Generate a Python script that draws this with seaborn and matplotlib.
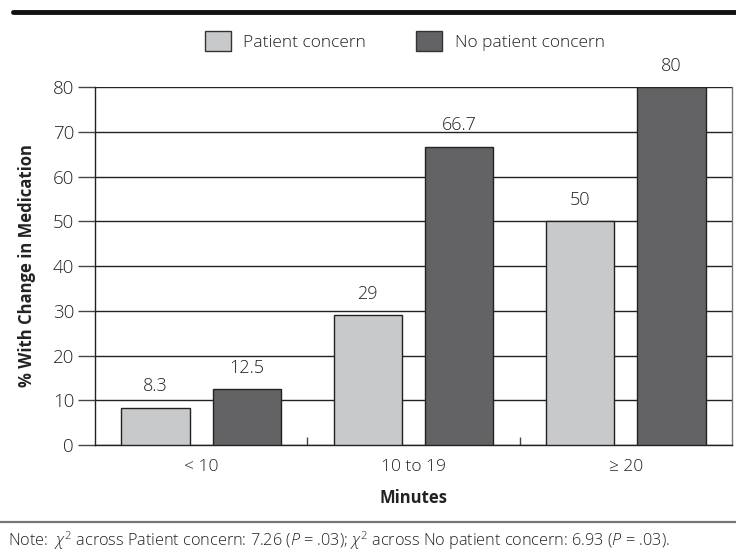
import numpy as np
import pandas as pd
import matplotlib
matplotlib.use("Agg")
import matplotlib.pyplot as plt
import seaborn as sns

# ---------------- Data ----------------
minutes = ["< 10", "10 to 19", "\u2265 20"]
groups = ["Patient concern", "No patient concern"]
patient_concern = [8.3, 29, 50]
no_patient_concern = [12.5, 66.7, 80]
value_labels = {
    "Patient concern": ["8.3", "29", "50"],
    "No patient concern": ["12.5", "66.7", "80"],
}
yticks = [0, 10, 20, 30, 40, 50, 60, 70, 80]

df = pd.DataFrame({
    "Minutes": minutes * 2,
    "group": [groups[0]] * 3 + [groups[1]] * 3,
    "pct": patient_concern + no_patient_concern,
})

# ---------------- Style ----------------
sns.set_style("white")
plt.rcParams["font.family"] = ["Open Sans", "DejaVu Sans"]
plt.rcParams["font.weight"] = "light"
plt.rcParams["mathtext.fontset"] = "custom"
plt.rcParams["mathtext.rm"] = "Open Sans:light"
plt.rcParams["mathtext.it"] = "Open Sans:italic:light"
txt = "#222222"
light, dark = "#c8c9cb", "#636365"

fig = plt.figure(figsize=(7.36, 5.56), dpi=100)
ax = fig.add_axes([0.129, 0.1996, 0.8655, 0.6439])

sns.barplot(data=df, x="Minutes", y="pct", hue="group", hue_order=groups,
            palette=[light, dark], edgecolor="#222222", linewidth=1.0,
            width=0.86, gap=0.25, ax=ax, legend=False, zorder=3)

for cont, g in zip(ax.containers, groups):
    ax.bar_label(cont, labels=value_labels[g], padding=9, fontsize=13,
                 color=txt, clip_on=False)

# ---------------- Axes ----------------
ax.set_ylim(0, 80)
ax.set_xlim(-0.5, 2.5)
ax.set_yticks(yticks)
ax.yaxis.grid(True, color="#222222", linewidth=1.0, zorder=0)
ax.set_axisbelow(True)
ax.tick_params(axis="y", direction="out", length=12, width=1.0, color="#444444",
               labelsize=13.5, labelcolor=txt, pad=3, left=True)
ax.tick_params(axis="x", length=0, labelsize=12.5, labelcolor=txt, pad=10)
ax.set_xticks([0.5, 1.5], minor=True)
ax.tick_params(axis="x", which="minor", direction="in", length=6, width=1.0,
               color="#444444", bottom=True)

for s in ["left", "bottom"]:
    ax.spines[s].set_color("#222222")
    ax.spines[s].set_linewidth(1.0)
ax.spines["right"].set_color("#777777")
ax.spines["right"].set_linewidth(1.0)
ax.spines["top"].set_visible(False)

ax.set_xlabel("Minutes", fontsize=12, fontweight="bold", color=txt, labelpad=10)
ax.set_ylabel("% With Change in Medication", fontsize=12, fontweight="bold",
              color=txt, labelpad=12)

# ---------------- Legend ----------------
handles = [plt.Rectangle((0, 0), 1, 1, facecolor=c, edgecolor="#333333", linewidth=1.0)
           for c in [light, dark]]
fig.legend(handles, groups, loc="center", bbox_to_anchor=(0.55, 0.926), ncol=2,
           frameon=False, fontsize=12.5, handlelength=1.5, handleheight=1.45,
           columnspacing=2.9, handletextpad=0.7, labelcolor=txt)

# ---------------- Rules and note ----------------
fig.add_artist(plt.Line2D([0.018, 1.0], [0.978, 0.978], color="#111111", linewidth=3.5))
fig.add_artist(plt.Line2D([0.0, 1.0], [0.061, 0.061], color="#777777", linewidth=1.6))
fig.text(0.011, 0.028,
         r"Note:  $\chi^2$ across Patient concern: 7.26 ($P$ = .03); $\chi^2$ across No patient concern: 6.93 ($P$ = .03).",
         fontsize=11.7, color=txt, va="center")

fig.savefig("out.png", dpi=100)
